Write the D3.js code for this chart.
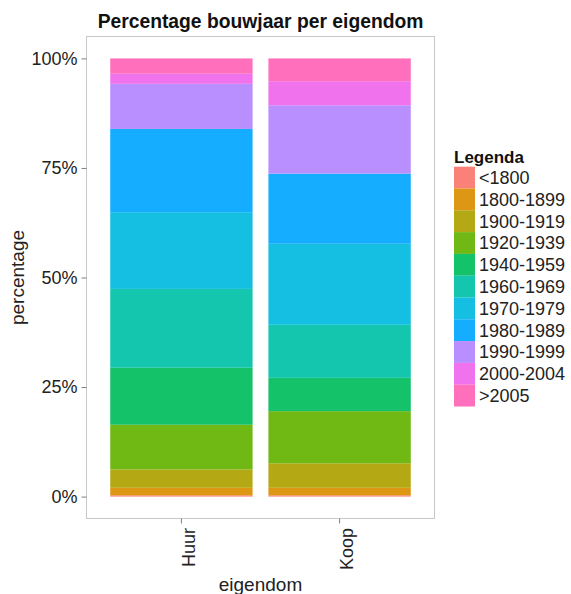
<!DOCTYPE html>
<html>
<head>
<meta charset="utf-8">
<script src="https://cdn.jsdelivr.net/npm/d3@7/dist/d3.min.js"></script>
<style>
  body { margin: 0; background: #fff; }
  svg { font-family: "Liberation Sans", Arial, Helvetica, sans-serif; }
</style>
</head>
<body>
<svg id="chart" width="571" height="594"></svg>
<script>
const categories = ["Huur", "Koop"];
const periods = ["<1800", "1800-1899", "1900-1919", "1920-1939", "1940-1959", "1960-1969",
                 "1970-1979", "1980-1989", "1990-1999", "2000-2004", ">2005"];
const huurValues = [0.3, 1.7, 4.2, 10.2, 13.0, 18.0, 17.5, 19.0, 10.3, 2.3, 3.5];
const koopValues = [0.3, 1.7, 5.6, 11.9, 7.6, 12.1, 18.5, 16.0, 15.6, 5.5, 5.2];
const colors = ["#F8766D", "#DB8E00", "#AEA200", "#64B200", "#00BD5C", "#00C1A7",
                "#00BADE", "#00A6FF", "#B385FF", "#EF67EB", "#FF63B6"];
const yTicks = [0, 0.25, 0.5, 0.75, 1];

const svg = d3.select("#chart");
const panel = { left: 86.5, right: 434.5, top: 36.5, bottom: 518.5 };

const x = d3.scaleBand().domain(categories)
  .range([panel.left, panel.right]).paddingInner(0.1).paddingOuter(0.15);
const y = d3.scaleLinear().domain([-0.05, 1.05]).range([panel.bottom, panel.top]);
const color = d3.scaleOrdinal().domain(periods).range(colors);

// panel background + border
svg.append("rect")
  .attr("x", panel.left).attr("y", panel.top)
  .attr("width", panel.right - panel.left).attr("height", panel.bottom - panel.top)
  .attr("fill", "#fff").attr("stroke", "#c8c8c8").attr("stroke-width", 1);

// data rows
const rows = categories.map((c, i) => {
  const vals = i === 0 ? huurValues : koopValues;
  const total = d3.sum(vals);
  const obj = { cat: c };
  periods.forEach((p, j) => obj[p] = vals[j] / total);
  return obj;
});
const stack = d3.stack().keys(periods)(rows);

const g = svg.append("g");
stack.forEach((layer) => {
  g.selectAll(null).data(layer).enter().append("rect")
    .attr("x", d => x(d.data.cat))
    .attr("width", x.bandwidth())
    .attr("y", d => y(d[1]))
    .attr("height", d => y(d[0]) - y(d[1]))
    .attr("fill", color(layer.key))
    .attr("fill-opacity", 0.92);
});

// y axis
const yAxis = svg.append("g").attr("transform", `translate(${panel.left},0)`)
  .call(d3.axisLeft(y).tickValues(yTicks).tickFormat(d3.format(".0%")).tickSize(5).tickPadding(4));
yAxis.select(".domain").remove();
yAxis.selectAll(".tick line").attr("stroke", "#7f7f7f");
yAxis.selectAll(".tick text").attr("font-size", 18).attr("fill", "#222")
  .attr("font-family", "Liberation Sans, Arial, sans-serif");

// x axis
const xAxis = svg.append("g").attr("transform", `translate(0,${panel.bottom})`)
  .call(d3.axisBottom(x).tickSize(5).tickPadding(0));
xAxis.select(".domain").remove();
xAxis.selectAll(".tick line").attr("stroke", "#7f7f7f");
xAxis.selectAll(".tick text")
  .attr("font-size", 18).attr("fill", "#222")
  .attr("font-family", "Liberation Sans, Arial, sans-serif")
  .attr("text-anchor", "end")
  .attr("dy", null).attr("y", 0)
  .attr("transform", "translate(13.5,9.5) rotate(-90)");

// title
svg.append("text").attr("x", (panel.left + panel.right) / 2).attr("y", 28)
  .attr("text-anchor", "middle").attr("font-size", 19.3).attr("font-weight", "bold")
  .attr("fill", "#111").text("Percentage bouwjaar per eigendom");

// axis titles
svg.append("text").attr("x", (panel.left + panel.right) / 2).attr("y", 591)
  .attr("text-anchor", "middle").attr("font-size", 19).attr("fill", "#222").text("eigendom");
svg.append("text").attr("transform", `translate(24,${(y(0) + y(1)) / 2}) rotate(-90)`)
  .attr("text-anchor", "middle").attr("font-size", 19).attr("fill", "#222").text("percentage");

// legend
const legend = svg.append("g").attr("transform", "translate(453,0)");
legend.append("text").attr("x", 1).attr("y", 163).attr("font-size", 17)
  .attr("font-weight", "bold").attr("fill", "#111").text("Legenda");
const keyH = 21.8, keyTop = 166.7;
periods.forEach((p, i) => {
  legend.append("rect").attr("x", 1).attr("y", keyTop + i * keyH)
    .attr("width", 21).attr("height", keyH)
    .attr("fill", color(p)).attr("fill-opacity", 0.92);
  legend.append("text").attr("x", 26).attr("y", keyTop + i * keyH + keyH / 2 + 6.3)
    .attr("font-size", 18).attr("fill", "#222").text(p);
});
</script>
</body>
</html>
